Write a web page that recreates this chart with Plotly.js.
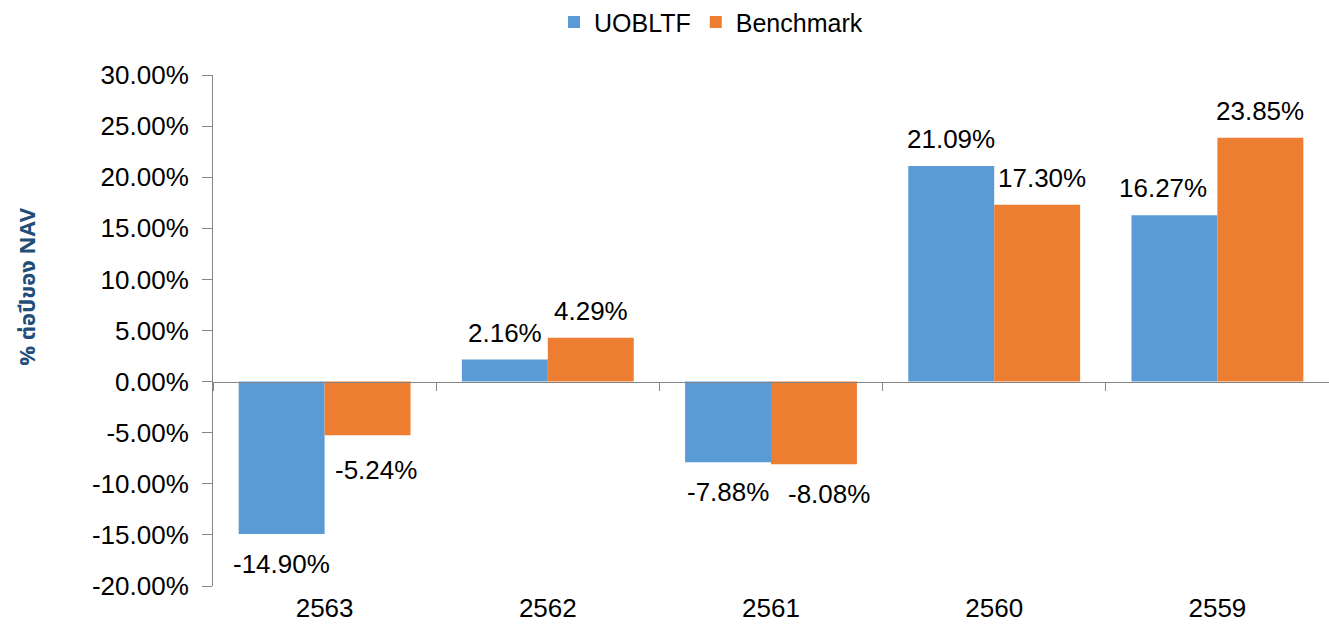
<!DOCTYPE html>
<html>
<head>
<meta charset="utf-8">
<script src="https://cdn.plot.ly/plotly-3.0.1.min.js"></script>
<style>html,body{margin:0;padding:0;background:#fff;}#chart{width:1329px;height:635px;}</style>
</head>
<body>
<div id="chart"></div>
<script>
const years = ['2563', '2562', '2561', '2560', '2559'];
const uobltf = [-14.90, 2.16, -7.88, 21.09, 16.27];
const benchmark = [-5.24, 4.29, -8.08, 17.30, 23.85];
const yTickVals = [-20, -15, -10, -5, 0, 5, 10, 15, 20, 25, 30];
const yTickText = ['-20.00%', '-15.00%', '-10.00%', '-5.00%', '0.00%', '5.00%', '10.00%', '15.00%', '20.00%', '25.00%', '30.00%'];
const seriesNames = ['UOBLTF', 'Benchmark'];
const yTitle = '% ต่อปีของ NAV';

const fmt = v => v.toFixed(2) + '%';
const font = 'Liberation Sans, Arial, sans-serif';
const gray = '#868686';

// small label nudges (pixels), like the spreadsheet's own label placement
const nudgeX = [[0, 0, 0, 0, -11], [8, 0, 15, 5, 0]];
const nudgeY = [[0, 0, 0, 0, 0], [-5, 0, 0, 0, 0]];

const traces = [
  {type: 'bar', name: seriesNames[0], x: years, y: uobltf, hoverinfo: 'none',
   marker: {color: '#5B9BD5'}},
  {type: 'bar', name: seriesNames[1], x: years, y: benchmark, hoverinfo: 'none',
   marker: {color: '#ED7D31'}},
  {type: 'scatter', mode: 'markers', x: years, y: years.map(() => 0), xaxis: 'x2',
   marker: {opacity: 0}, showlegend: false, hoverinfo: 'skip'}
];

// data labels anchored to each bar's value through the axes (category index on x)
const annotations = [];
[[uobltf, -43], [benchmark, 43]].forEach(([vals, dx], s) => {
  vals.forEach((v, i) => {
    annotations.push({x: i, y: v, xref: 'x', yref: 'y', text: fmt(v), showarrow: false,
      xshift: dx + nudgeX[s][i], yshift: (v >= 0 ? 27 : -30) + nudgeY[s][i],
      xanchor: 'center', yanchor: 'middle',
      font: {family: font, size: 26, color: '#000'}});
  });
});
annotations.push({x: -0.166, y: 0.585, xref: 'paper', yref: 'paper', text: '<b>' + yTitle + '</b>',
  textangle: -90, showarrow: false, xanchor: 'center', yanchor: 'middle',
  font: {family: 'Tahoma, Noto Sans Thai, Noto Sans, DejaVu Sans, sans-serif', size: 22, color: '#1F4E79'}});

const layout = {
  width: 1329, height: 635,
  margin: {l: 213, r: 0, t: 75, b: 49},
  paper_bgcolor: '#fff', plot_bgcolor: '#fff',
  barmode: 'group', bargap: 0.23, bargroupgap: 0,
  font: {family: font, size: 26, color: '#000'},
  showlegend: true,
  legend: {orientation: 'h', xref: 'container', yref: 'container', x: 0.535, y: 0.965,
           xanchor: 'center', yanchor: 'middle', font: {family: font, size: 25, color: '#000'},
           traceorder: 'normal'},
  annotations: annotations,
  xaxis: {type: 'category', range: [-0.5, 4.5], showline: false, ticks: '', showgrid: false,
          zeroline: false, ticklabelstandoff: 4, tickfont: {family: font, size: 26, color: '#000'}},
  xaxis2: {type: 'category', overlaying: 'x', anchor: 'free', position: 0.4, side: 'bottom',
           range: [-0.5, 4.5], showline: true, linecolor: gray, linewidth: 1,
           ticks: 'outside', tickson: 'boundaries', ticklen: 8, tickcolor: gray, tickwidth: 1,
           showticklabels: false, showgrid: false, zeroline: false},
  yaxis: {range: [-20, 30], tickvals: yTickVals, ticktext: yTickText, showgrid: false,
          zeroline: false, showline: true, linecolor: gray, linewidth: 1,
          ticks: 'outside', ticklen: 10, tickcolor: gray, tickwidth: 1, ticklabelstandoff: 8,
          tickfont: {family: font, size: 26, color: '#000'}}
};

Plotly.newPlot('chart', traces, layout, {displayModeBar: false, staticPlot: true});
</script>
</body>
</html>
